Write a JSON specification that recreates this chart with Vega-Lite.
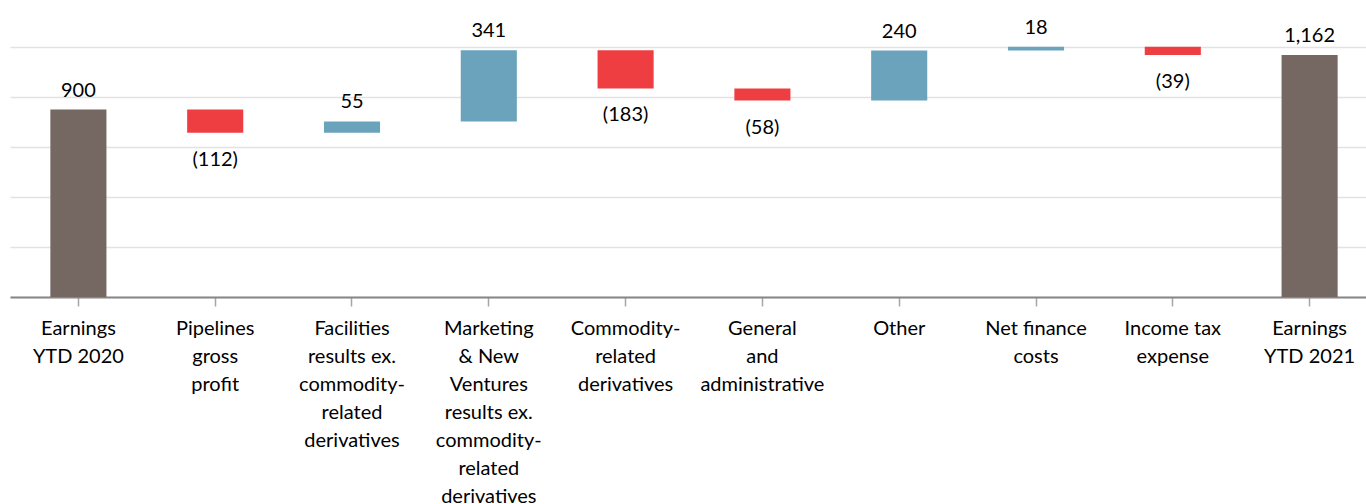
{
  "$schema": "https://vega.github.io/schema/vega-lite/v6.json",
  "width": 1356,
  "height": 250,
  "autosize": {"type": "none"},
  "padding": {"left": 10, "top": 47, "right": 0, "bottom": 207},
  "config": {"view": {"stroke": null}, "font": "Lato", "text": {"font": "Lato"}},
  "data": {
    "values": [
      {"cat": "Earnings|YTD 2020", "start": 0, "end": 900, "label": "900", "kind": "total"},
      {"cat": "Pipelines|gross|profit", "start": 900, "end": 788, "label": "(112)", "kind": "neg"},
      {"cat": "Facilities|results ex.|commodity-|related|derivatives", "start": 788, "end": 843, "label": "55", "kind": "pos"},
      {"cat": "Marketing|& New|Ventures|results ex.|commodity-|related|derivatives", "start": 843, "end": 1184, "label": "341", "kind": "pos"},
      {"cat": "Commodity-|related|derivatives", "start": 1184, "end": 1001, "label": "(183)", "kind": "neg"},
      {"cat": "General|and|administrative", "start": 1001, "end": 943, "label": "(58)", "kind": "neg"},
      {"cat": "Other", "start": 943, "end": 1183, "label": "240", "kind": "pos"},
      {"cat": "Net finance|costs", "start": 1183, "end": 1201, "label": "18", "kind": "pos"},
      {"cat": "Income tax|expense", "start": 1201, "end": 1162, "label": "(39)", "kind": "neg"},
      {"cat": "Earnings|YTD 2021", "start": 0, "end": 1162, "label": "1,162", "kind": "total"}
    ]
  },
  "encoding": {
    "x": {
      "field": "cat",
      "type": "nominal",
      "sort": null,
      "scale": {"range": [0, 1368], "paddingInner": 0.59, "paddingOuter": 0.295},
      "axis": {
        "title": null,
        "labelExpr": "split(datum.label, '|')",
        "labelFontSize": 20,
        "labelFont": "Lato",
        "labelLineHeight": 28,
        "labelColor": "#000000",
        "labelAngle": 0,
        "labelBaseline": "top",
        "labelPadding": 12,
        "labelLimit": 0,
        "tickSize": 9,
        "tickColor": "#a6a6a6",
        "tickWidth": 1.5,
        "domainColor": "#868686",
        "domainWidth": 2,
        "grid": false
      }
    }
  },
  "layer": [
    {
      "mark": {"type": "bar"},
      "encoding": {
        "y": {
          "field": "start",
          "type": "quantitative",
          "scale": {"domain": [0, 1200], "nice": false, "zero": true},
          "axis": {
            "values": [0, 240, 480, 720, 960, 1200],
            "grid": true,
            "gridColor": "#e2e2e2",
            "gridWidth": 1.5,
            "labels": false,
            "ticks": false,
            "domain": false,
            "title": null
          }
        },
        "y2": {"field": "end"},
        "color": {
          "field": "kind",
          "type": "nominal",
          "scale": {"domain": ["total", "pos", "neg"], "range": ["#756862", "#6aa3bb", "#ef3e42"]},
          "legend": null
        }
      }
    },
    {
      "transform": [{"filter": "datum.kind != 'neg'"}],
      "mark": {"type": "text", "fontSize": 20, "baseline": "alphabetic", "dy": -13, "color": "#000000"},
      "encoding": {
        "y": {"field": "end", "type": "quantitative"},
        "text": {"field": "label", "type": "nominal"}
      }
    },
    {
      "transform": [{"filter": "datum.kind == 'neg'"}],
      "mark": {"type": "text", "fontSize": 20, "baseline": "alphabetic", "dy": 33, "color": "#000000"},
      "encoding": {
        "y": {"field": "end", "type": "quantitative"},
        "text": {"field": "label", "type": "nominal"}
      }
    }
  ]
}
